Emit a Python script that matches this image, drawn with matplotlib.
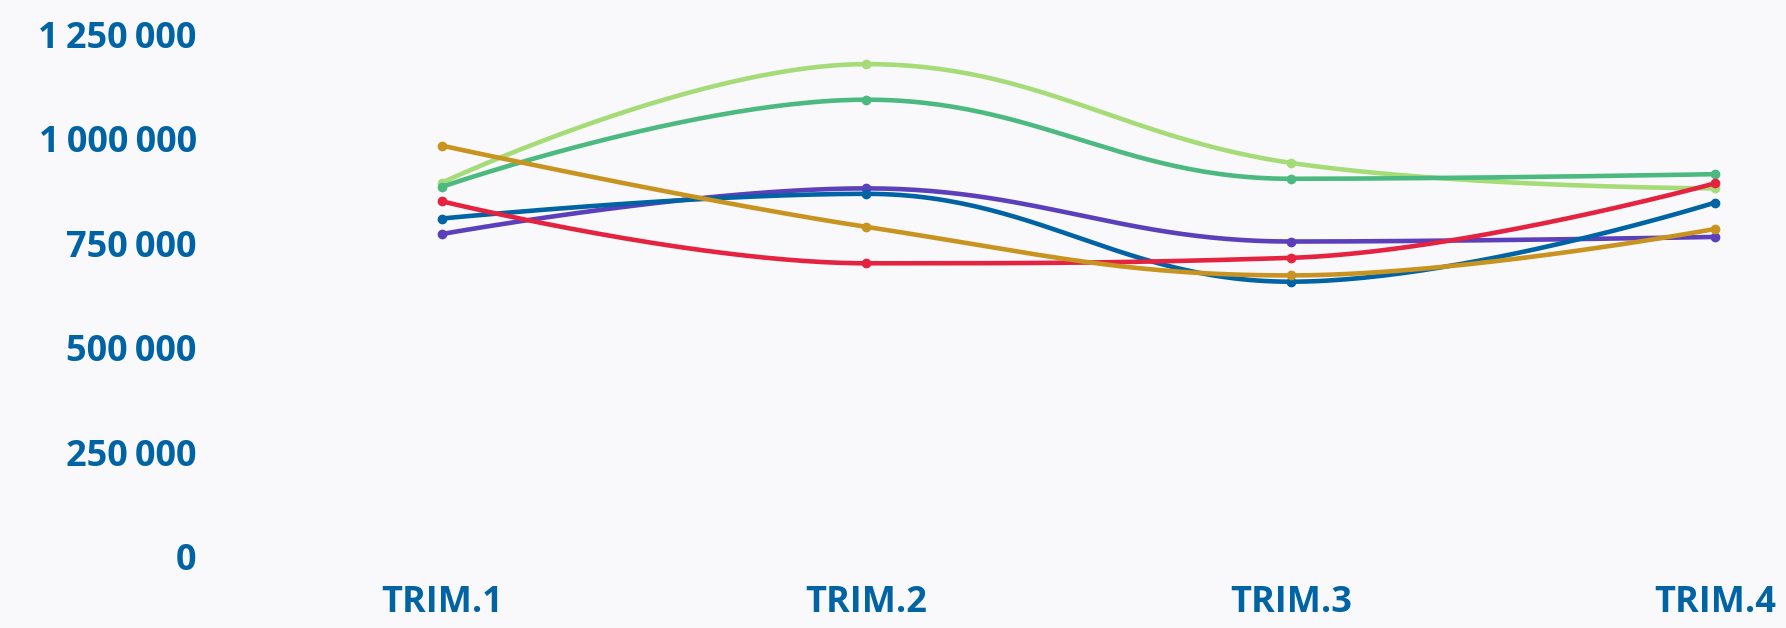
import numpy as np
import matplotlib
matplotlib.use("Agg")
import matplotlib.pyplot as plt

# Données du graphique
trimestres = ["TRIM.1", "TRIM.2", "TRIM.3", "TRIM.4"]
serie_vert_clair = [895000, 1178000, 942000, 881000]
serie_vert = [885000, 1093000, 904000, 915000]
serie_violet = [772000, 881000, 754000, 765000]
serie_bleu = [809000, 868000, 658000, 847000]
serie_rouge = [850000, 702000, 715000, 893000]
serie_or = [983000, 789000, 673000, 784000]

y_ticks = [0, 250000, 500000, 750000, 1000000, 1250000]
y_labels = ["0", "250\u2009000", "500\u2009000", "750\u2009000",
            "1\u2009000\u2009000", "1\u2009250\u2009000"]

series = [
    (serie_violet, "#5b3fbb"),
    (serie_bleu, "#0064a4"),
    (serie_vert_clair, "#a6dc78"),
    (serie_vert, "#4cba80"),
    (serie_rouge, "#e5223f"),
    (serie_or, "#c8941f"),
]

bg = "#f9f9fb"
blue_txt = "#0063a3"
fam = ["Open Sans", "DejaVu Sans"]


def spline(xs, ys, smoothing=1.5, n=60):
    # courbe lissée façon "spline" (bezier cubique par segment)
    xs = np.asarray(xs, float)
    ys = np.asarray(ys, float)
    m = len(xs)
    lc = [(xs[i], ys[i]) for i in range(m)]
    rc = [(xs[i], ys[i]) for i in range(m)]
    d = smoothing + 1
    for i in range(1, m - 1):
        px, py = xs[i], ys[i]
        lx, ly = xs[i - 1], ys[i - 1]
        nx, ny = xs[i + 1], ys[i + 1]
        lcx = (smoothing * px + lx) / d
        lcy = (smoothing * py + ly) / d
        rcx = (smoothing * px + nx) / d
        rcy = (smoothing * py + ny) / d
        corr = (rcy - lcy) * (rcx - px) / (rcx - lcx) + py - rcy
        lcy += corr
        rcy += corr
        if lcy > ly and lcy > py:
            lcy = max(ly, py)
            rcy = 2 * py - lcy
        elif lcy < ly and lcy < py:
            lcy = min(ly, py)
            rcy = 2 * py - lcy
        if rcy > ny and rcy > py:
            rcy = max(ny, py)
            lcy = 2 * py - rcy
        elif rcy < ny and rcy < py:
            rcy = min(ny, py)
            lcy = 2 * py - rcy
        lc[i] = (lcx, lcy)
        rc[i] = (rcx, rcy)
    t = np.linspace(0, 1, n)
    out_x, out_y = [], []
    for i in range(m - 1):
        p0 = (xs[i], ys[i])
        p1 = rc[i]
        p2 = lc[i + 1]
        p3 = (xs[i + 1], ys[i + 1])
        a = (1 - t) ** 3
        b = 3 * (1 - t) ** 2 * t
        c = 3 * (1 - t) * t ** 2
        e = t ** 3
        out_x.append(a * p0[0] + b * p1[0] + c * p2[0] + e * p3[0])
        out_y.append(a * p0[1] + b * p1[1] + c * p2[1] + e * p3[1])
    return np.concatenate(out_x), np.concatenate(out_y)


fig = plt.figure(figsize=(17.86, 6.28), dpi=100, facecolor=bg)
ax = fig.add_axes([230 / 1786, 71 / 628, 1 - 230 / 1786, (557 - 34) / 628])
ax.set_facecolor(bg)

x = np.arange(len(trimestres))
for vals, col in series:
    sx, sy = spline(x, vals)
    ax.plot(sx, sy, color=col, lw=3.3, solid_capstyle="round", clip_on=False)
    ax.plot(x, vals, "o", color=col, ms=6, clip_on=False)

ax.set_xlim(-0.5, 3 + 71 / 424.3)
ax.set_ylim(0, 1250000)
ax.set_xticks(x)
ax.set_xticklabels(trimestres)
ax.set_yticks(y_ticks)
ax.set_yticklabels(y_labels)
for s in ax.spines.values():
    s.set_visible(False)
ax.tick_params(axis="both", length=0, colors=blue_txt)
ax.tick_params(axis="y", pad=24)
ax.tick_params(axis="x", pad=20)
for lab in ax.get_xticklabels() + ax.get_yticklabels():
    lab.set_fontfamily(fam)
    lab.set_fontweight("bold")
    lab.set_fontsize(26)
    lab.set_color(blue_txt)

fig.savefig("out.png", dpi=100, facecolor=bg)
